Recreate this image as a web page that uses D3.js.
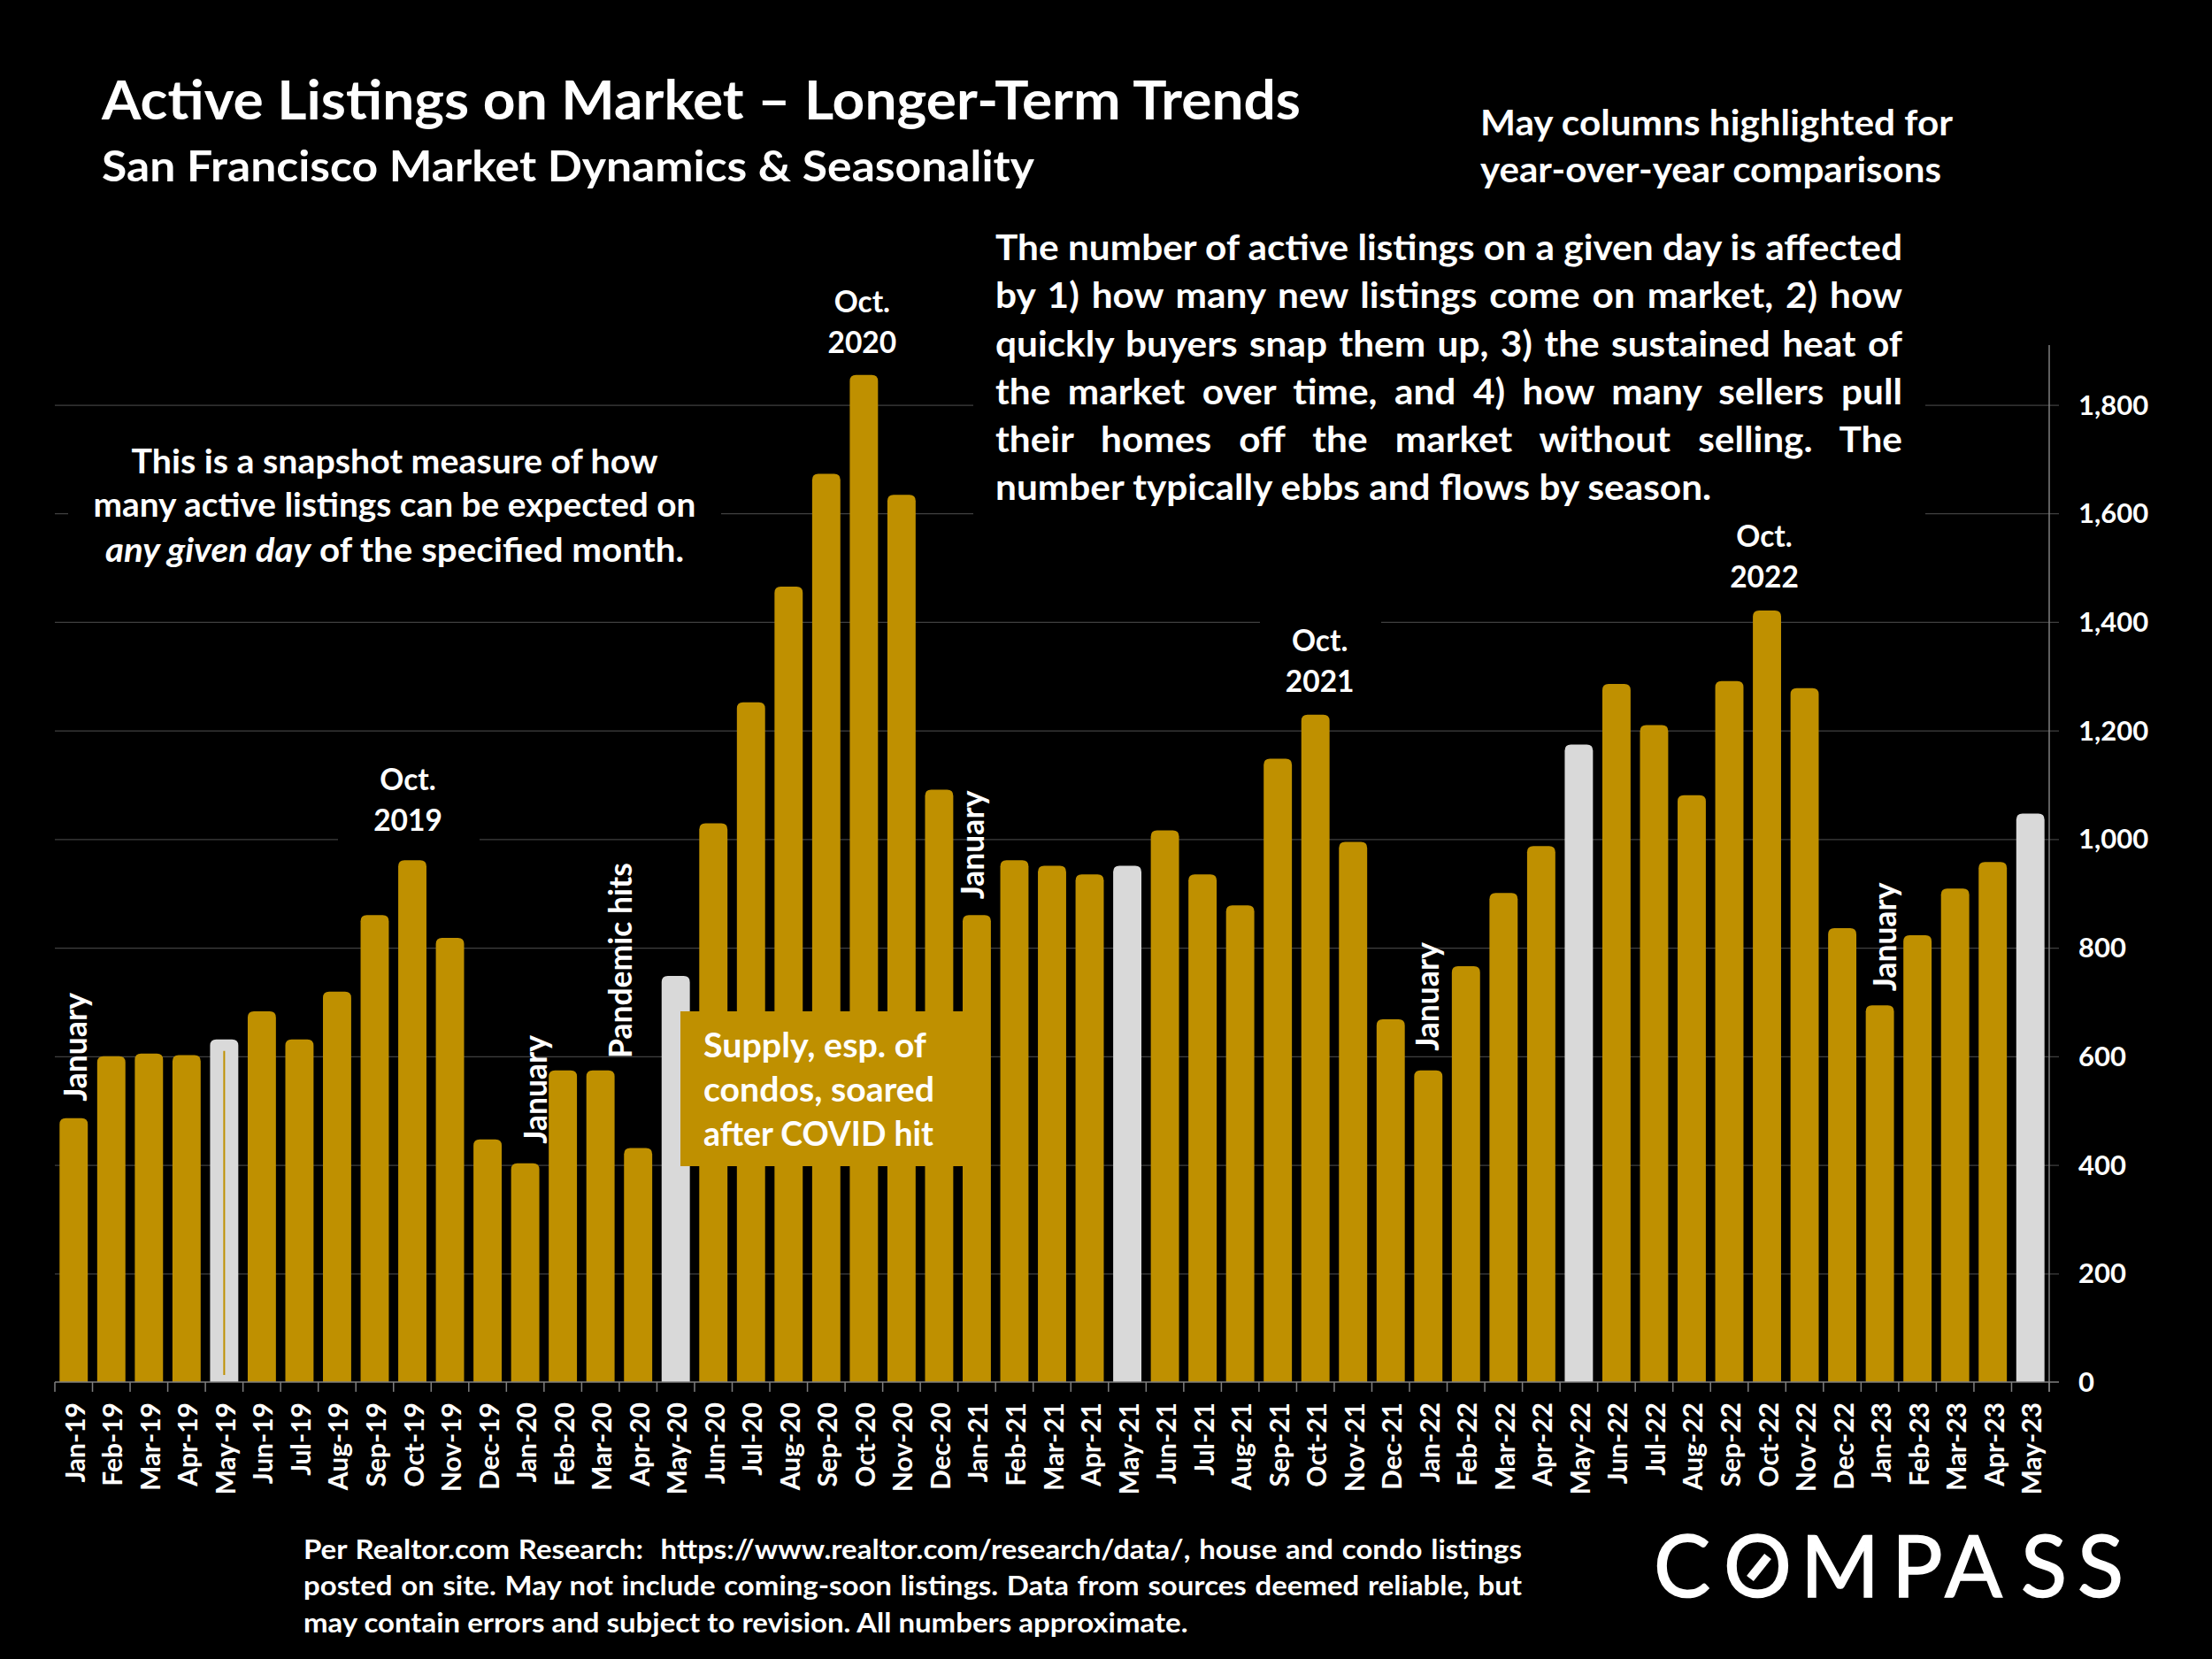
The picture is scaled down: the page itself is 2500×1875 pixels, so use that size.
<!DOCTYPE html>
<html><head><meta charset="utf-8">
<script src="https://cdnjs.cloudflare.com/ajax/libs/d3/7.8.5/d3.min.js"></script>
<style>html,body{margin:0;padding:0;background:#000}svg{display:block}text{font-family:Lato,sans-serif;font-weight:700;fill:#fff;white-space:pre}</style>
</head><body><svg id="c" width="2500" height="1875"></svg>
<script>
const months=["Jan-19","Feb-19","Mar-19","Apr-19","May-19","Jun-19","Jul-19","Aug-19","Sep-19","Oct-19","Nov-19","Dec-19","Jan-20","Feb-20","Mar-20","Apr-20","May-20","Jun-20","Jul-20","Aug-20","Sep-20","Oct-20","Nov-20","Dec-20","Jan-21","Feb-21","Mar-21","Apr-21","May-21","Jun-21","Jul-21","Aug-21","Sep-21","Oct-21","Nov-21","Dec-21","Jan-22","Feb-22","Mar-22","Apr-22","May-22","Jun-22","Jul-22","Aug-22","Sep-22","Oct-22","Nov-22","Dec-22","Jan-23","Feb-23","Mar-23","Apr-23","May-23"];
const listings=[486,600,605,602,631,683,631,719,860,961,818,447,403,574,574,431,748,1029,1252,1465,1673,1855,1634,1091,860,961,951,935,951,1016,935,878,1148,1229,995,668,574,766,901,987,1174,1286,1210,1081,1291,1421,1278,836,694,823,909,958,1047];
const yTicks=[0,200,400,600,800,1000,1200,1400,1600,1800];
const peakMonths=["Oct-19","Oct-20","Oct-21","Oct-22"];
const peakYears=["2019","2020","2021","2022"];
const sideMonths=["Jan-19","Jan-20","Apr-20","Jan-21","Jan-22","Jan-23"];
const sideTexts=["January","January","Pandemic hits","January","January","January"];
const title="Active Listings on Market – Longer-Term Trends";
const subtitle="San Francisco Market Dynamics & Seasonality";
const mayNote=["May columns highlighted for","year-over-year comparisons"];
const para=["The number of active listings on a given day is affected","by 1) how many new listings come on market, 2) how","quickly buyers snap them up, 3) the sustained heat of","the market over time, and 4) how many sellers pull","their homes off the market without selling. The","number typically ebbs and flows by season."];
const snapshot=["This is a snapshot measure of how","many active listings can be expected on"];
const covid=["Supply, esp. of","condos, soared","after COVID hit"];
const footer=["Per Realtor.com Research:  https://www.realtor.com/research/data/, house and condo listings","posted on site. May not include coming-soon listings. Data from sources deemed reliable, but","may contain errors and subject to revision. All numbers approximate."];
const GOLD="#BF9000",GREY="#D9D9D9";
const svg=d3.select("#c");
svg.append("rect").attr("width",2500).attr("height",1875).attr("fill","#000");
const x=d3.scaleBand().domain(months).range([62,2316]).paddingInner(.25).paddingOuter(.125);
const y=d3.scaleLinear().domain([0,1800]).range([1562,457.5]);
const yTop=390;
svg.append("g").selectAll("line").data(yTicks.slice(1)).join("line").attr("x1",62).attr("x2",2327).attr("y1",d=>y(d)+.5).attr("y2",d=>y(d)+.5).attr("stroke","#404040").attr("stroke-width",1.25);
[[1100,425,1076,170],[77,490,738,160],[382,860,160,90],[1424,690,137,60]].forEach(r=>svg.append("rect").attr("x",r[0]).attr("y",r[1]).attr("width",r[2]).attr("height",r[3]).attr("fill","#000"));
const r=7,bw=x.bandwidth();
svg.append("g").selectAll("path").data(months).join("path").attr("fill",d=>d.startsWith("May")?GREY:GOLD)
 .attr("d",(d,i)=>{const a=x(d),t=y(listings[i]),b=y(0);return `M${a},${b}V${t+r}Q${a},${t} ${a+r},${t}H${a+bw-r}Q${a+bw},${t} ${a+bw},${t+r}V${b}Z`;});
const m19=x("May-19")+bw/2;
svg.append("line").attr("x1",m19).attr("x2",m19).attr("y1",y(610)).attr("y2",y(13)).attr("stroke",GOLD).attr("stroke-width",2);
const ax=svg.append("g").attr("stroke","#7f7f7f").attr("stroke-width",1.5);
ax.append("line").attr("x1",62).attr("x2",2327).attr("y1",y(0)).attr("y2",y(0));
ax.append("line").attr("x1",2316).attr("x2",2316).attr("y1",yTop).attr("y2",y(0)+11);
const step=x.step();
d3.range(months.length+1).forEach(i=>ax.append("line").attr("x1",62+i*step).attr("x2",62+i*step).attr("y1",y(0)).attr("y2",y(0)+11));
svg.append("g").selectAll("text").data(months).join("text").attr("font-size",30).attr("text-anchor","end")
 .attr("transform",d=>`translate(${x(d)+bw/2+12.5},1585) rotate(-90)`).text(d=>d);
svg.append("g").selectAll("text").data(yTicks).join("text").attr("x",2349).attr("y",d=>y(d)+11).attr("font-size",31).text(d=>d3.format(",")(d));
function squeeze(sel,w){return sel.attr("textLength",w).attr("lengthAdjust","spacingAndGlyphs");}
function block(lines,x0,w,ys,fs,natural,justifyCount){
 const g=svg.append("g");
 const probe=g.append("text").attr("font-size",fs).text(lines[natural.i]);
 const c=natural.w/probe.node().getComputedTextLength();probe.remove();
 g.attr("transform",`translate(${x0},0) scale(${c},1)`);
 lines.forEach((l,i)=>{const t=g.append("text").attr("x",0).attr("y",ys[i]).attr("font-size",fs).text(l);
  if(i<justifyCount){const n=(l.match(/ /g)||[]).length,len=t.node().getComputedTextLength();t.style("word-spacing",((w/c-len)/n)+"px");}});
}
squeeze(svg.append("text").attr("x",115).attr("y",135).attr("font-size",61).text(title),1355);
squeeze(svg.append("text").attr("x",115).attr("y",204.5).attr("font-size",47).text(subtitle),1054);
[[152.5,534],[206,521]].forEach((p,i)=>squeeze(svg.append("text").attr("x",1673).attr("y",p[0]).attr("font-size",40).text(mayNote[i]),p[1]));
block(para,1125,1025,[294.5,348.5,403.5,457.5,511.5,565.5],40,{i:0,w:1025},5);
[[534.5,446,595],[584,446,681]].forEach((p,i)=>squeeze(svg.append("text").attr("x",p[1]).attr("y",p[0]).attr("font-size",38).attr("text-anchor","middle").text(snapshot[i]),p[2]));
const sn=svg.append("text").attr("x",446).attr("y",635).attr("font-size",38).attr("text-anchor","middle");
sn.append("tspan").attr("font-style","italic").text("any given day");
sn.append("tspan").text(" of the specified month.");
squeeze(sn,654);
const peakOffsets=[[-5,-11],[-2,-3],[5,-4],[-3,-4]];
peakMonths.forEach((m,k)=>{const cx=x(m)+bw/2+peakOffsets[k][0],top=y(listings[months.indexOf(m)])+peakOffsets[k][1];
 [["Oct.",-68],[peakYears[k],-22]].forEach(q=>svg.append("text").attr("x",cx).attr("y",top+q[1]).attr("font-size",33.5).attr("text-anchor","middle").text(q[0]));});
const sideOffsets=[[3,-19],[12,-22],[-19.5,0],[-4,-18],[0,-22],[6.5,-16]];
sideMonths.forEach((m,k)=>{const cx=x(m)+bw/2+sideOffsets[k][0],
 bot=sideTexts[k]==="January"?y(listings[months.indexOf(m)])+sideOffsets[k][1]:1196;
 svg.append("text").attr("font-size",35.5).attr("transform",`translate(${cx+12},${bot}) rotate(-90)`).text(sideTexts[k]);});
svg.append("rect").attr("x",769).attr("y",1143).attr("width",323).attr("height",175).attr("fill",GOLD);
[[1194.5,252],[1244.5,261],[1295,260]].forEach((p,i)=>squeeze(svg.append("text").attr("x",795).attr("y",p[0]).attr("font-size",37.5).text(covid[i]),p[1]));
block(footer,343,1377,[1762,1803,1845],30,{i:2,w:1000},2);
const logoLetters="COMPASS".split(""),logoX=[1869,1948,2035,2138,2198,2284,2348];
const lg=svg.append("text").attr("y",1805).attr("font-size",96).style("font-weight",400).attr("stroke","#fff").attr("stroke-width",1.5);
lg.attr("x",logoX.join(" ")).text(logoLetters.join(""));
svg.append("line").attr("x1",1978).attr("x2",1998).attr("y1",1784).attr("y2",1759).attr("stroke","#fff").attr("stroke-width",10);
</script></body></html>
